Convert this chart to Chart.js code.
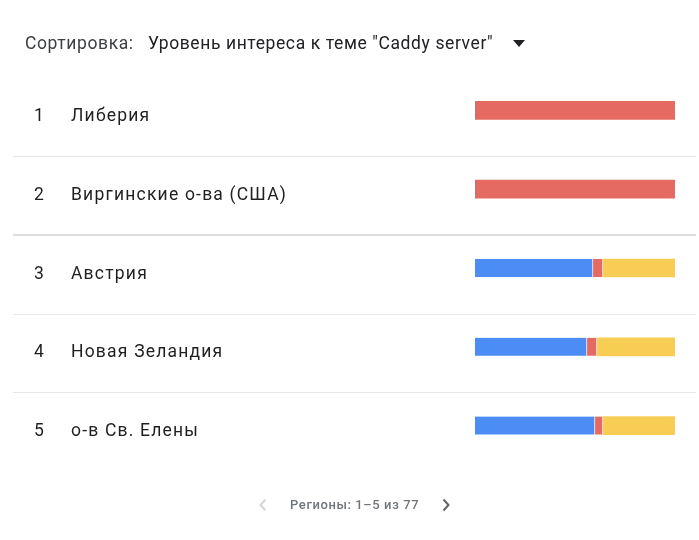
<!DOCTYPE html>
<html><head><meta charset="utf-8">
<script src="https://cdn.jsdelivr.net/npm/chart.js@4"></script>
<style>
html,body{margin:0;padding:0;background:#fff;}
#wrap{position:relative;width:699px;height:540px;font-family:Roboto,"Noto Sans",sans-serif;}
canvas{position:absolute;left:0;top:0;}
.hdr{position:absolute;top:33px;font-size:17.5px;letter-spacing:0.6px;white-space:nowrap;}
.tri{position:absolute;left:513px;top:40px;width:0;height:0;border-left:6px solid transparent;border-right:6px solid transparent;border-top:7px solid #202124;}
.pg{position:absolute;top:497px;left:290px;font-size:13px;font-weight:500;letter-spacing:0.6px;color:#70757a;white-space:nowrap;}
.chev{position:absolute;top:498px;width:8px;height:14px;}
</style></head>
<body><div id="wrap">
<canvas id="c" width="699" height="540"></canvas>
<div class="hdr" style="left:25px;color:#3c4043;">Сортировка:</div>
<div class="hdr" style="left:148px;color:#202124;">Уровень интереса к теме "Caddy server"</div>
<div class="tri"></div>
<svg class="chev" style="left:259px" viewBox="0 0 8 14"><polyline points="6.5,1.5 1.5,7 6.5,12.5" fill="none" stroke="#d5d7da" stroke-width="2"/></svg>
<div class="pg">Регионы: 1–5 из 77</div>
<svg class="chev" style="left:442px" viewBox="0 0 8 14"><polyline points="1.5,1.5 6.5,7 1.5,12.5" fill="none" stroke="#5f6368" stroke-width="2"/></svg>
</div>
<script>
const ranks = ['1','2','3','4','5'];
const regions = ['Либерия','Виргинские о-ва (США)','Австрия','Новая Зеландия','о-в Св. Елены'];
const blueVals = [0, 0, 59, 56, 60];
const redVals = [100, 100, 5, 5, 4];
const yellowVals = [0, 0, 36, 39, 36];

const rowsPlugin = {
  id: 'rows',
  afterDatasetsDraw(chart) {
    const ctx = chart.ctx, y = chart.scales.y;
    const band = y.getPixelForValue(1) - y.getPixelForValue(0);
    ctx.save();
    for (let i = 0; i < regions.length - 1; i++) {
      const py = Math.round(y.getPixelForValue(i) + band * 0.578);
      ctx.fillStyle = i === 1 ? '#dadce0' : '#e8e8e8';
      ctx.fillRect(13, i === 1 ? py - 1 : py, 683, i === 1 ? 2 : 1);
    }
    ctx.fillStyle = '#1f1f1f';
    ctx.font = '17.5px Roboto, "Noto Sans", sans-serif';
    ctx.letterSpacing = '1.2px';
    ctx.textBaseline = 'alphabetic';
    ctx.textAlign = 'left';
    regions.forEach((r, i) => {
      const by = y.getPixelForValue(i) + 10.5;
      ctx.fillText(ranks[i], 34, by);
      ctx.fillText(r, 71, by);
    });
    ctx.restore();
  }
};

const sepRight = (next) => (c) => ({right: next[c.dataIndex] > 0 ? 1 : 0, left: 0, top: 0, bottom: 0});

new Chart(document.getElementById('c'), {
  type: 'bar',
  data: {
    labels: regions,
    datasets: [
      {label: 'blue', data: blueVals, backgroundColor: '#4b8df5', borderColor: '#ffffff', borderWidth: sepRight(redVals), borderSkipped: false},
      {label: 'red', data: redVals, backgroundColor: '#e56a62', borderColor: '#ffffff', borderWidth: sepRight(yellowVals), borderSkipped: false},
      {label: 'yellow', data: yellowVals, backgroundColor: '#f8cd54', borderWidth: 0}
    ]
  },
  options: {
    indexAxis: 'y',
    responsive: false,
    animation: false,
    devicePixelRatio: 1,
    layout: {padding: {left: 475, right: 24, top: 71, bottom: 75}},
    datasets: {bar: {barThickness: 18}},
    scales: {
      x: {stacked: true, min: 0, max: 100, display: false},
      y: {stacked: true, display: false}
    },
    plugins: {legend: {display: false}, tooltip: {enabled: false}}
  },
  plugins: [rowsPlugin]
});
</script>
</body></html>
